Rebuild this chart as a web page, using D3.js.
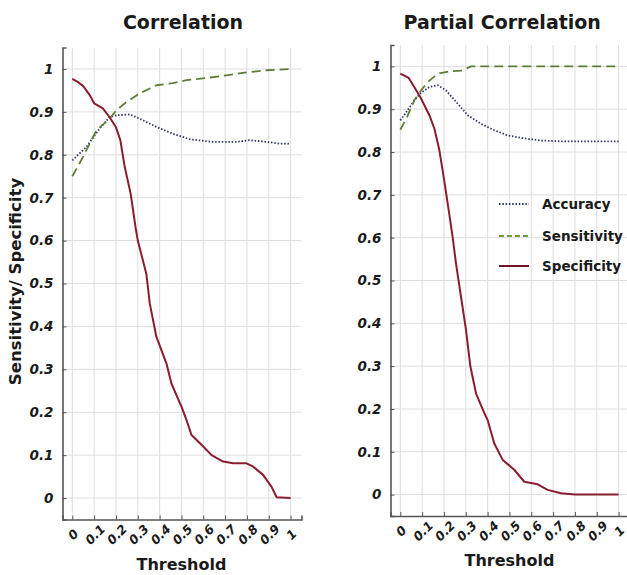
<!DOCTYPE html>
<html>
<head>
<meta charset="utf-8">
<script src="https://cdn.jsdelivr.net/npm/d3@7"></script>
<style>
  html, body { margin: 0; padding: 0; background: #fff; }
  svg { display: block; }
  text { font-family: "DejaVu Sans", sans-serif; fill: #1a1a1a; }
</style>
</head>
<body>
<div id="chart"></div>
<script>
// Threshold sweep results, [threshold, value]
const corrSpecificity = [[0,0.977],[0.03,0.968],[0.05,0.96],[0.08,0.939],[0.10,0.92],[0.14,0.908],[0.17,0.888],[0.2,0.864],[0.22,0.834],[0.24,0.772],[0.267,0.71],[0.29,0.63],[0.30,0.60],[0.339,0.523],[0.355,0.453],[0.385,0.376],[0.431,0.314],[0.454,0.267],[0.5,0.213],[0.523,0.182],[0.546,0.147],[0.6,0.12],[0.638,0.1],[0.691,0.085],[0.737,0.081],[0.798,0.081],[0.829,0.073],[0.874,0.054],[0.913,0.026],[0.936,0.002],[1,0]];
const corrSensitivity = [[0,0.75],[0.049,0.795],[0.11,0.857],[0.171,0.884],[0.202,0.904],[0.248,0.923],[0.309,0.943],[0.385,0.962],[0.461,0.967],[0.523,0.974],[0.615,0.979],[0.706,0.985],[0.798,0.992],[0.89,0.997],[1,1]];
const corrAccuracy = [[0,0.787],[0.064,0.818],[0.125,0.861],[0.171,0.888],[0.202,0.892],[0.263,0.894],[0.309,0.884],[0.385,0.865],[0.461,0.849],[0.538,0.836],[0.645,0.83],[0.752,0.83],[0.813,0.834],[0.89,0.83],[0.951,0.826],[1,0.826]];

const pcorrSpecificity = [[0,0.983],[0.037,0.974],[0.064,0.952],[0.095,0.925],[0.133,0.886],[0.156,0.855],[0.179,0.804],[0.201,0.734],[0.224,0.656],[0.24,0.6],[0.255,0.54],[0.278,0.462],[0.301,0.384],[0.321,0.299],[0.347,0.236],[0.385,0.19],[0.4,0.174],[0.43,0.12],[0.469,0.081],[0.522,0.058],[0.568,0.03],[0.629,0.024],[0.675,0.011],[0.736,0.003],[0.8,0],[1,0]];
const pcorrSensitivity = [[0,0.852],[0.031,0.882],[0.064,0.921],[0.095,0.944],[0.125,0.963],[0.171,0.983],[0.232,0.989],[0.278,0.99],[0.324,1.0],[1,1]];
const pcorrAccuracy = [[0,0.874],[0.034,0.898],[0.064,0.921],[0.095,0.938],[0.133,0.952],[0.171,0.956],[0.209,0.944],[0.263,0.913],[0.309,0.886],[0.37,0.866],[0.43,0.851],[0.492,0.839],[0.553,0.833],[0.644,0.827],[0.736,0.825],[1,0.825]];

const xTicks = [0,0.1,0.2,0.3,0.4,0.5,0.6,0.7,0.8,0.9,1];
const yTicks = [0,0.1,0.2,0.3,0.4,0.5,0.6,0.7,0.8,0.9,1];
const seriesNames = ["Accuracy","Sensitivity","Specificity"];

const styles = {
  Accuracy:    { color: "#2e3566", width: 1.8, dash: "1.5,1.8" },
  Sensitivity: { color: "#5e7d36", width: 1.8, dash: "9,5" },
  Specificity: { color: "#8a1c30", width: 2, dash: null }
};
const legendColors = { Accuracy: "#2e3566", Sensitivity: "#6ea040", Specificity: "#6e1424" };

const W = 627, H = 575;
const svg = d3.select("#chart").append("svg").attr("width", W).attr("height", H);
const defs = svg.append("defs");

const panels = [
  { id: "p1", title: "Correlation", x0: 62.5, x1: 301.5, y0: 47.5, y1: 519.5,
    data: { Accuracy: corrAccuracy, Sensitivity: corrSensitivity, Specificity: corrSpecificity }, legend: false, ylabel: true },
  { id: "p2", title: "Partial Correlation", x0: 390.5, x1: 629.5, y0: 45, y1: 516,
    data: { Accuracy: pcorrAccuracy, Sensitivity: pcorrSensitivity, Specificity: pcorrSpecificity }, legend: true, ylabel: false }
];

panels.forEach(p => {
  const x = d3.scaleLinear().domain([-0.045, 1.05]).range([p.x0, p.x1]);
  const y = d3.scaleLinear().domain([-0.05, 1.05]).range([p.y1, p.y0]);
  const g = svg.append("g");

  defs.append("clipPath").attr("id", "clip-" + p.id)
    .append("rect").attr("x", p.x0).attr("y", p.y0).attr("width", p.x1 - p.x0).attr("height", p.y1 - p.y0);

  // grid
  const grid = g.append("g").attr("clip-path", `url(#clip-${p.id})`);
  grid.selectAll("line.vx").data(xTicks).join("line")
    .attr("x1", d => x(d)).attr("x2", d => x(d)).attr("y1", p.y0).attr("y2", p.y1)
    .attr("stroke", "#dedede").attr("stroke-width", 1);
  grid.selectAll("line.hy").data(yTicks).join("line")
    .attr("x1", p.x0).attr("x2", p.x1).attr("y1", d => y(d)).attr("y2", d => y(d))
    .attr("stroke", "#dedede").attr("stroke-width", 1);

  // axes
  const xAxis = g.append("g").attr("transform", `translate(0,${p.y1})`)
    .call(d3.axisBottom(x).tickValues(xTicks).tickSize(-4).tickFormat(""));
  const yAxis = g.append("g").attr("transform", `translate(${p.x0},0)`)
    .call(d3.axisLeft(y).tickValues(yTicks).tickSize(-4).tickFormat(""));
  [xAxis, yAxis].forEach(a => {
    a.select(".domain").attr("stroke", "#555").attr("stroke-width", 1.6);
    a.selectAll(".tick line").attr("stroke", "#555").attr("stroke-width", 1);
  });

  // y tick labels
  g.selectAll("text.yl").data(yTicks).join("text")
    .attr("x", p.x0 - 9).attr("y", d => y(d)).attr("dy", "0.36em")
    .attr("text-anchor", "end")
    .style("font-size", "13.5px").style("font-weight", "bold").style("font-style", "italic")
    .text(d => d3.format("~g")(d));

  // x tick labels, slanted
  g.selectAll("text.xl").data(xTicks).join("text")
    .attr("transform", d => `translate(${x(d) + 1},${p.y1 + 15}) rotate(-45)`)
    .attr("text-anchor", "middle").attr("dy", "0.35em")
    .style("font-size", "12.5px").style("font-weight", "bold").style("font-style", "italic")
    .text(d => d3.format("~g")(d));

  // series
  const line = d3.line().x(d => x(d[0])).y(d => y(d[1]));
  const lines = g.append("g").attr("clip-path", `url(#clip-${p.id})`);
  seriesNames.forEach(name => {
    const s = styles[name];
    lines.append("path").datum(p.data[name])
      .attr("d", line).attr("fill", "none")
      .attr("stroke", s.color).attr("stroke-width", s.width)
      .attr("stroke-dasharray", s.dash)
      .attr("stroke-linejoin", "round");
  });

  // title
  svg.append("text").attr("x", (p.x0 + Math.min(p.x1, 612)) / 2 + 1).attr("y", 29)
    .attr("text-anchor", "middle")
    .style("font-size", "19px").style("font-weight", "bold")
    .text(p.title);

  // x axis label
  svg.append("text").attr("x", x(0.5)).attr("y", p.y1 + 50)
    .attr("text-anchor", "middle")
    .style("font-size", "16px").style("font-weight", "bold")
    .text("Threshold");

  if (p.ylabel) {
    svg.append("text").attr("transform", `translate(21,${(p.y0 + p.y1) / 2 - 2}) rotate(-90)`)
      .attr("text-anchor", "middle")
      .style("font-size", "16.5px").style("font-weight", "bold")
      .text("Sensitivity/ Specificity");
  }

  if (p.legend) {
    const lg = svg.append("g");
    const rows = [204, 236, 266];
    seriesNames.forEach((name, i) => {
      const s = styles[name];
      lg.append("line").attr("x1", 499).attr("x2", 529).attr("y1", rows[i]).attr("y2", rows[i])
        .attr("stroke", legendColors[name]).attr("stroke-width", s.width)
        .attr("stroke-dasharray", name === "Sensitivity" ? "5,3" : s.dash);
      lg.append("text").attr("x", 542).attr("y", rows[i]).attr("dy", "0.35em")
        .style("font-size", "13.5px").style("font-weight", "bold")
        .text(name);
    });
  }
});
</script>
</body>
</html>
